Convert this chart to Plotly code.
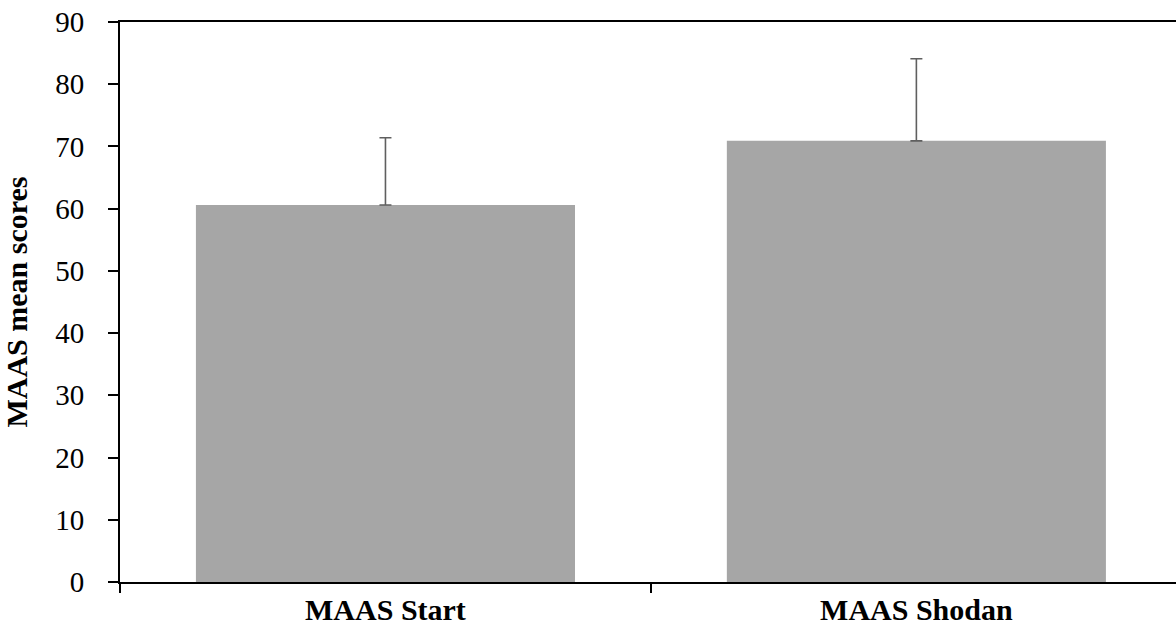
import plotly.graph_objects as go

# MAAS mean scores at start and at Shodan, with standard deviations
categories = ["MAAS Start", "MAAS Shodan"]
mean_scores = [60.6, 70.9]
std_dev = [10.8, 13.2]
y_ticks = [0, 10, 20, 30, 40, 50, 60, 70, 80, 90]

SERIF = "Palatino Linotype, Palatino, Book Antiqua, Liberation Serif, serif"

fig = go.Figure(
    go.Bar(
        x=categories,
        y=mean_scores,
        width=0.714,
        marker=dict(color="#a6a6a6", line=dict(width=0)),
        error_y=dict(
            type="data",
            array=std_dev,
            symmetric=False,
            arrayminus=[0, 0],
            color="#5f5f5f",
            thickness=1.6,
            width=6,
        ),
        showlegend=False,
    )
)

fig.update_layout(
    width=1176,
    height=638,
    margin=dict(l=120, r=0, t=22, b=56),
    paper_bgcolor="white",
    plot_bgcolor="white",
    font=dict(family=SERIF, color="black", size=30),
    bargap=0.286,
)

fig.update_xaxes(
    type="category",
    range=[-0.5, 1.489],
    showline=True,
    linecolor="black",
    linewidth=2,
    mirror=True,
    ticks="outside",
    tickson="boundaries",
    ticklen=9,
    tickwidth=2,
    tickcolor="black",
    showgrid=False,
    tickfont=dict(family=SERIF, size=30, weight="bold"),
)

fig.update_yaxes(
    range=[0, 90],
    tickvals=y_ticks,
    showline=True,
    linecolor="black",
    linewidth=2,
    ticks="outside",
    ticklen=10,
    tickwidth=2,
    tickcolor="black",
    showgrid=False,
    zeroline=False,
    ticklabelstandoff=18,
    tickfont=dict(family=SERIF, size=29),
    title=dict(
        text="MAAS mean scores",
        font=dict(family=SERIF, size=30, weight="bold"),
        standoff=20,
    ),
)

fig.write_html("out.html")
